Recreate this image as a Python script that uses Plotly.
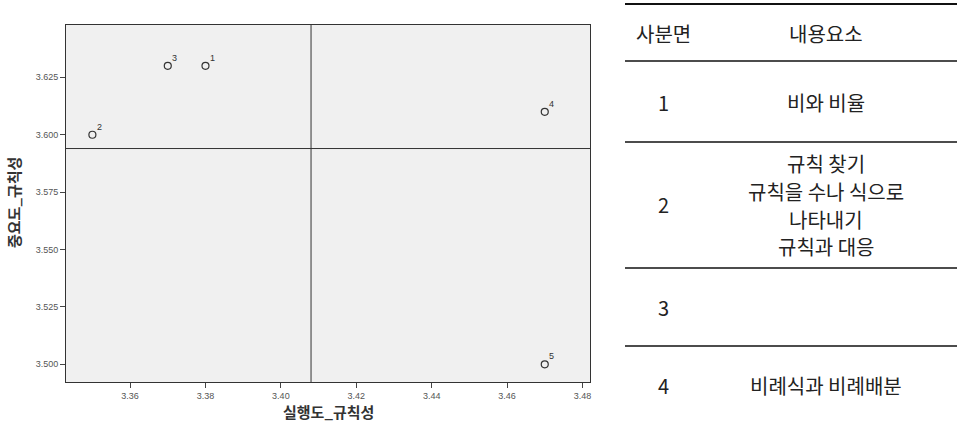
import plotly.graph_objects as go

# 실행도 / 중요도 (규칙성) 내용요소별 평균
ids = ["1", "2", "3", "4", "5"]
practice = [3.38, 3.35, 3.37, 3.47, 3.47]
importance = [3.63, 3.60, 3.63, 3.61, 3.50]

x_ticks = [3.36, 3.38, 3.40, 3.42, 3.44, 3.46, 3.48]
y_ticks = [3.500, 3.525, 3.550, 3.575, 3.600, 3.625]

quadrants = ["1", "2", "3", "4"]
contents = [
    ["비와 비율"],
    ["규칙 찾기", "규칙을 수나 식으로", "나타내기", "규칙과 대응"],
    [],
    ["비례식과 비례배분"],
]

W, H = 957, 423
def px(x):
    return x / W
def py(y):
    return 1 - y / H

x_mean = sum(practice) / len(practice)
y_mean = sum(importance) / len(importance)

fig = go.Figure()
fig.add_trace(go.Scatter(
    x=practice, y=importance, mode="markers",
    marker=dict(symbol="circle-open", size=7, color="#333333", line=dict(width=1.2)),
    showlegend=False, hoverinfo="skip",
))

annotations = []
for i, xv, yv in zip(ids, practice, importance):
    annotations.append(dict(x=xv, y=yv, xref="x", yref="y", text=i, showarrow=False,
                            xanchor="center", yanchor="middle",
                            xshift=7, yshift=8, font=dict(size=9, color="#333333", family="Arial")))

# Quadrant reference lines at the means
shapes = [
    dict(type="line", xref="x", yref="paper", x0=x_mean, x1=x_mean,
         y0=py(382), y1=py(25), line=dict(color="#333333", width=1)),
    dict(type="line", xref="paper", yref="y", x0=px(66), x1=px(590),
         y0=y_mean, y1=y_mean, line=dict(color="#333333", width=1)),
]

# Table on the right
tfont = dict(family="Noto Sans CJK KR", size=20, color="#222222")
for yline, w in [(4, 2), (61, 1.5), (142, 1.5), (268, 1.5), (346, 1.5)]:
    shapes.append(dict(type="line", xref="paper", yref="paper", x0=px(625), x1=1,
                       y0=py(yline), y1=py(yline), line=dict(color="#111111", width=w)))

def label(x, y, text, font, **kw):
    annotations.append(dict(x=px(x), y=py(y), xref="paper", yref="paper", text=text,
                            showarrow=False, xanchor="center", yanchor="middle", font=font, **kw))

col1_x, col2_x = 663, 826
label(col1_x, 33, "사분면", tfont)
label(col2_x, 33, "내용요소", tfont)
row_centers = [102, 205, 307, 385]
line_gap = 28
for q, items, yc in zip(quadrants, contents, row_centers):
    label(col1_x, yc, q, tfont)
    n = len(items)
    for k, t in enumerate(items):
        label(col2_x, yc + (k - (n - 1) / 2) * line_gap, t, tfont)

# Axis titles
title_font = dict(family="Noto Sans CJK KR", size=15, color="#333333")
label(328, 411, "<b>실행도_규칙성</b>", title_font)
label(13, 203, "<b>중요도_규칙성</b>", title_font, textangle=-90)

axis_common = dict(showgrid=False, zeroline=False, showline=True, linecolor="#333333", linewidth=1,
                   mirror=True, ticks="outside", ticklen=5, tickcolor="#444444",
                   tickfont=dict(family="Arial", size=9, color="#555555"))

fig.update_layout(
    width=W, height=H, margin=dict(l=0, r=0, t=0, b=0),
    paper_bgcolor="white", plot_bgcolor="#f0f0f0",
    xaxis=dict(domain=[px(66), px(590)], range=[3.343, 3.482], tickvals=x_ticks,
               ticktext=[f"{v:.2f}" for v in x_ticks], **axis_common),
    yaxis=dict(domain=[py(382), py(25)], range=[3.4923, 3.6478], tickvals=y_ticks,
               ticktext=[f"{v:.3f}" for v in y_ticks], **axis_common),
    shapes=shapes, annotations=annotations,
)

fig.write_html("out.html")
